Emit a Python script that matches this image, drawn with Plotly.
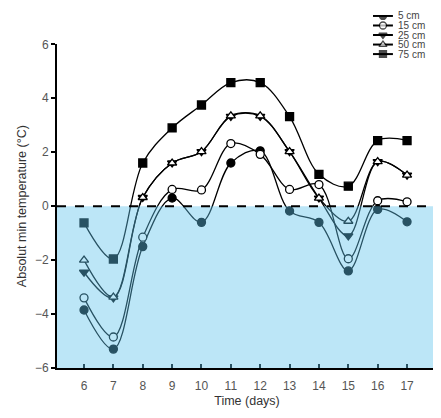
import plotly.graph_objects as go

days = [6, 7, 8, 9, 10, 11, 12, 13, 14, 15, 16, 17]
d5 = [-3.85, -5.3, -1.5, 0.3, -0.6, 1.6, 2.05, -0.18, -0.6, -2.4, -0.12, -0.58]
d15 = [-3.4, -4.85, -1.15, 0.62, 0.6, 2.32, 1.92, 0.62, 0.8, -1.95, 0.2, 0.16]
d25 = [-2.45, -3.4, 0.32, 1.6, 2.02, 3.33, 3.33, 2.02, 0.3, -1.1, 1.65, 1.15]
d50 = [-2.0, -3.37, 0.32, 1.6, 2.02, 3.35, 3.35, 2.02, 0.3, -0.56, 1.65, 1.15]
d75 = [-0.62, -1.96, 1.6, 2.9, 3.75, 4.58, 4.58, 3.32, 1.18, 0.74, 2.43, 2.43]
yticks = [-6, -4, -2, 0, 2, 4, 6]

series = [
    ("5 cm", d5, "circle", "black"),
    ("15 cm", d15, "circle", "white"),
    ("25 cm", d25, "triangle-down", "black"),
    ("50 cm", d50, "triangle-up", "white"),
    ("75 cm", d75, "square", "black"),
]

fig = go.Figure()
for name, vals, sym, fill in series:
    fig.add_trace(go.Scatter(
        x=days, y=vals, name=name, mode="lines+markers", showlegend=False,
        line=dict(color="black", width=1.3, shape="spline", smoothing=1),
        marker=dict(symbol=sym, size=8, color=fill,
                    line=dict(color="black", width=1.3)),
    ))

# manual compact legend (swatch on helper axes, text as annotations)
for i, (name, vals, sym, fill) in enumerate(series):
    row = i + 1
    fig.add_trace(go.Scatter(
        x=[0, 0.5, 1], y=[row] * 3, mode="lines+markers", showlegend=False,
        xaxis="x2", yaxis="y2", hoverinfo="skip",
        line=dict(color="black", width=2),
        marker=dict(symbol=sym, size=[0, 7, 0], color=fill,
                    line=dict(color="black", width=1.3)),
    ))
    fig.add_annotation(x=1, y=row, xref="x2", yref="y2", text=name,
                       showarrow=False, xanchor="left", xshift=4, borderpad=0,
                       font=dict(size=10, color="#444"))

fig.add_shape(type="rect", xref="paper", yref="y", x0=0, x1=1, y0=-6, y1=0,
              fillcolor="rgba(95,195,235,0.42)", line_width=0, layer="above")
fig.add_shape(type="line", xref="paper", yref="y", x0=0, x1=1, y0=0, y1=0,
              line=dict(color="black", width=2, dash="dash"), layer="above")

fig.update_layout(
    width=433, height=410,
    margin=dict(l=49, r=4, t=0, b=50),
    paper_bgcolor="white", plot_bgcolor="white",
    font=dict(family="Liberation Sans, Arial, sans-serif", color="#444", size=11),
    showlegend=False,
    xaxis=dict(range=[5.08, 18.02], tickmode="array", tickvals=days,
               ticks="inside", ticklen=4, tickcolor="black", tickwidth=1.5,
               showline=True, linecolor="black", linewidth=2, showgrid=False,
               zeroline=False, tickfont=dict(size=12, color="#555"),
               ticklabelstandoff=6,
               title=dict(text="Time (days)", font=dict(size=12.5, color="#333"), standoff=4)),
    yaxis=dict(range=[-6, 6], tickvals=yticks, domain=[0, 0.917],
               ticks="outside", ticklen=4, tickcolor="black", tickwidth=1.5,
               showline=True, linecolor="black", linewidth=2, showgrid=False,
               zeroline=False, tickfont=dict(size=12, color="#555"),
               title=dict(text="Absolut min temperature (°C)", font=dict(size=12.5, color="#333"), standoff=6)),
    xaxis2=dict(domain=[0.8316, 0.884], range=[0, 1], anchor="y2", visible=False, fixedrange=True),
    yaxis2=dict(domain=[0.8785, 1.0], range=[5.4, 0.9], anchor="x2", visible=False, fixedrange=True),
)

fig.write_html("out.html")
